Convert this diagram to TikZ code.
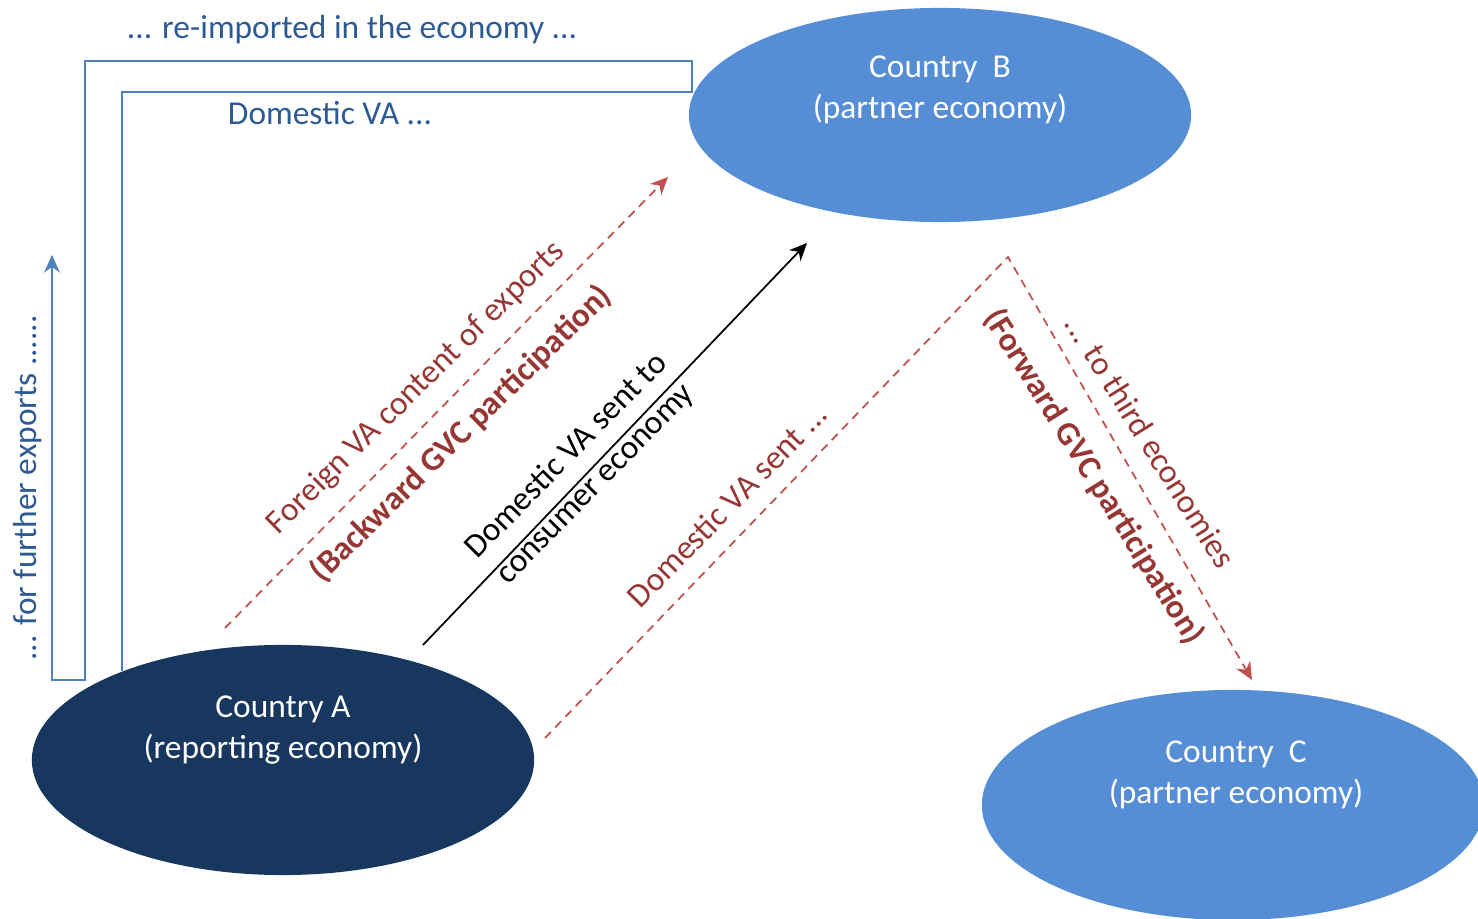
\documentclass[tikz,border=0pt]{standalone}
\usepackage{fontspec}
\setmainfont{Carlito}
\usetikzlibrary{shapes.geometric, arrows.meta}

\definecolor{navy}{HTML}{17375E}
\definecolor{skyblue}{HTML}{558ED5}
\definecolor{linered}{HTML}{C0504D}
\definecolor{textred}{HTML}{953735}
\definecolor{lineblue}{HTML}{4F81BD}
\definecolor{textblue}{HTML}{2E5A94}

\tikzset{
	country/.style={ellipse, minimum width=5.02cm, minimum height=2.3cm, inner sep=0pt},
	countrytext/.style={white, align=center},
	frame/.style={lineblue, line width=0.6pt},
	flow/.style={linered, line width=0.5pt, dash pattern=on 2.4pt off 1.8pt},
	redlabel/.style={textred, align=center},
}

\begin{document}
\begin{tikzpicture}[x=0.01cm, y=-0.01cm, font=\fontsize{9.5}{11.5}\selectfont, >={Stealth[length=5pt, width=4.5pt]}]
		\clip (0,0) rectangle (1478,919);
		% countries
		\node[country, fill=navy] (A) at (283,760) {};
		\node[country, fill=skyblue, minimum height=2.14cm] (B) at (940,115) {};
		\node[country, fill=skyblue] (C) at (1233,805) {};
		\node[countrytext] (Atext) at (283,730) {Country A\\(reporting economy)};
		\node[countrytext] (Btext) at (940,90) {Country~~B\\(partner economy)};
		\node[countrytext] (Ctext) at (1236,775) {Country~~C\\(partner economy)};
		% re-import loop
		\draw[frame, ->] (A.151) |- (692,92) -- (692,61) -| (85,680) -- (52,680) -- (52,255);
		\node[textblue] (reimp) at (352,30) {... re-imported in the economy ...};
		\node[textblue] (domva) at (330,113) {Domestic VA ...};
		\node[textblue, rotate=90] (further) at (28,488) {... for further exports ......};
		% flows
		\coordinate (bwdstart) at (225,628);
		\coordinate (bwdend) at (668,177);
		\coordinate (finstart) at (423,645);
		\coordinate (finend) at (807,243);
		\coordinate (fwdstart) at (545,738);
		\coordinate (fwdturn) at (1008,257);
		\coordinate (fwdend) at (1252,680);
		\draw[flow, ->] (bwdstart) -- (bwdend);
		\draw[->, line width=0.5pt] (finstart) -- (finend);
		\draw[flow, ->] (fwdstart) -- (fwdturn) -- (fwdend);
		% labels
		\node[redlabel, rotate=44.5] (bwd) at (439,411) {Foreign VA content of exports\\[7pt]\textbf{(Backward GVC participation)}};
		\node[rotate=45.5, align=center] (dvacons) at (581,470) {Domestic VA sent to\\consumer economy};
		\node[redlabel, rotate=45.5] (dvasent) at (727,505) {Domestic VA sent ...};
		\node[redlabel, rotate=-58] (fwd) at (1121,460) {... to third economies\\[7pt]\textbf{(Forward GVC participation)}};
	\end{tikzpicture}
\end{document}
